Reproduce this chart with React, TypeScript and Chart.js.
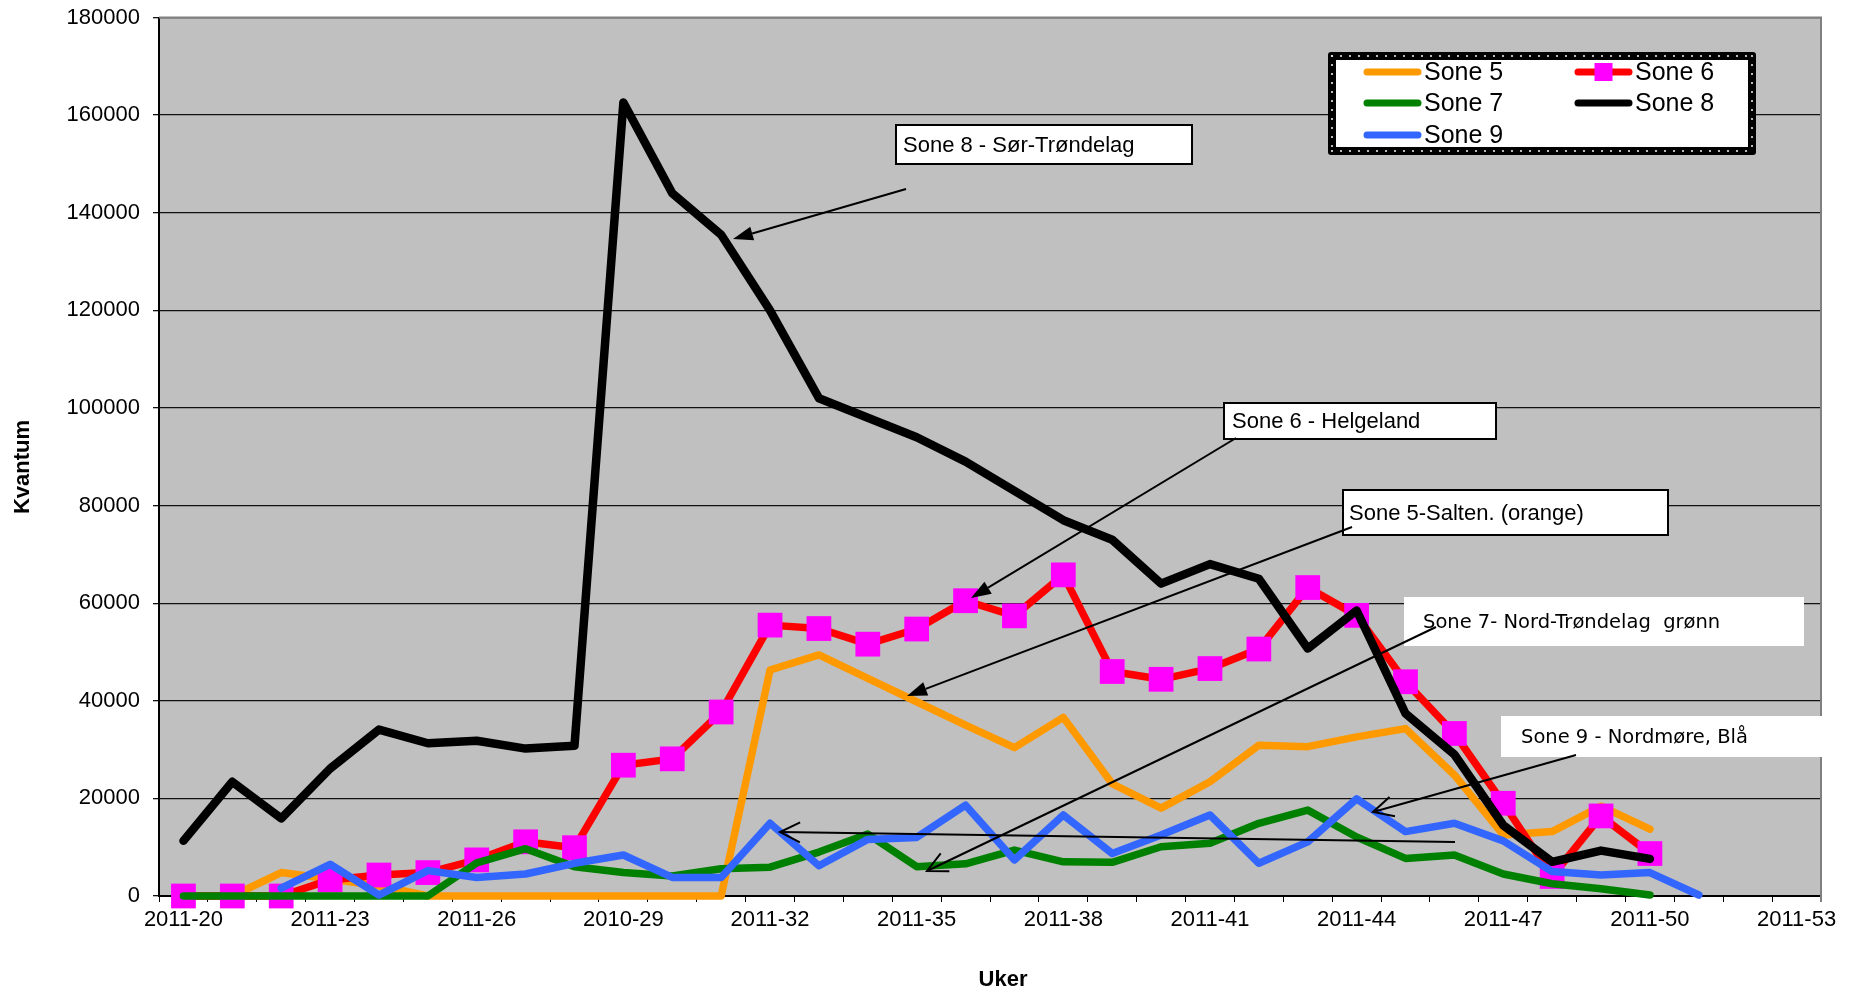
import React, { useEffect, useRef } from 'react';
import { Chart, registerables } from 'chart.js';

Chart.register(...registerables);

// ---------- data ----------
const weeks = [
  '2011-20', '2011-21', '2011-22', '2011-23', '2011-24', '2011-25', '2011-26', '2011-27', '2011-28', '2010-29',
  '2011-30', '2011-31', '2011-32', '2011-33', '2011-34', '2011-35', '2011-36', '2011-37', '2011-38', '2011-39',
  '2011-40', '2011-41', '2011-42', '2011-43', '2011-44', '2011-45', '2011-46', '2011-47', '2011-48', '2011-49',
  '2011-50', '2011-51', '2011-52', '2011-53',
];

const sone5 = [0, 0, 4800, 3500, 2100, 0, 0, 0, 0, 0, 0, 0, 46300, 49400, 44600, 39800, 35000, 30400, 36600, 23000,
  18000, 23400, 30900, 30600, 32600, 34300, 24800, 12500, 13200, 18400, 13700, null, null, null];

const sone6 = [0, 0, 0, 3300, 4300, 4800, 7400, 11100, 9900, 26800, 28100, 37700, 55500, 54800, 51600, 54700, 60500,
  57400, 65800, 46000, 44400, 46600, 50600, 63200, 57500, 43900, 33300, 19000, 4000, 16400, 8700, null, null, null];

const sone7 = [0, 0, 0, 0, 0, 0, 6800, 9700, 6000, 4800, 4100, 5600, 5900, 9000, 12700, 6000, 6600, 9400, 7000, 6900,
  10100, 10800, 14900, 17600, 12100, 7700, 8400, 4500, 2500, 1500, 200, null, null, null];

const sone8 = [11300, 23400, 15900, 26100, 34100, 31300, 31800, 30200, 30800, 162600, 144000, 135500, 120000, 102000,
  98000, 94000, 89000, 83000, 77000, 73000, 64000, 68000, 65000, 50700, 58500, 37400, 29000, 14500, 7000, 9300, 7600,
  null, null, null];

const sone9 = [null, null, 1600, 6500, 200, 5200, 3800, 4500, 6700, 8400, 3800, 3800, 14900, 6200, 11600, 12000, 18600,
  7400, 16600, 8700, 12500, 16600, 6700, 11100, 19900, 13200, 14900, 11300, 5000, 4300, 4800, 200, null, null];

const seriesNames = ['Sone 5', 'Sone 6', 'Sone 7', 'Sone 8', 'Sone 9'];
const seriesColors = ['#FF9900', '#FF0000', '#008000', '#000000', '#3366FF'];
const markerColor = '#FF00FF';

const yMin = 0;
const yMax = 180000;
const yStep = 20000;
const labelEvery = 3;

const yTitle = 'Kvantum';
const xTitle = 'Uker';

// annotation callouts: text boxes + arrows (pixel layout)
const callouts = [
  { text: 'Sone 8 - Sør-Trøndelag', box: [896, 125, 296, 39], bordered: true, font: '22px "Liberation Sans", Arial, sans-serif', tx: 903 },
  { text: 'Sone 6 - Helgeland', box: [1224, 403, 272, 36], bordered: true, font: '22px "Liberation Sans", Arial, sans-serif', tx: 1232 },
  { text: 'Sone 5-Salten. (orange)', box: [1343, 490, 325, 45], bordered: true, font: '22px "Liberation Sans", Arial, sans-serif', tx: 1349 },
  { text: 'Sone 7- Nord-Trøndelag  grønn', box: [1404, 597, 400, 49], bordered: false, font: '19.5px "DejaVu Sans", Verdana, sans-serif', tx: 1423 },
  { text: 'Sone 9 - Nordmøre, Blå', box: [1501, 716, 321, 41], bordered: false, font: '19.5px "DejaVu Sans", Verdana, sans-serif', tx: 1521 },
];

const arrows = [
  { from: [906, 189], to: [733, 239], filled: true },
  { from: [1236, 438], to: [971, 598], filled: true },
  { from: [1352, 527], to: [907, 696], filled: true },
  { from: [1436, 627], to: [927, 871], filled: false },
  { from: [1576, 755], to: [1373, 812], filled: false },
  { from: [1455, 842], to: [780, 832], filled: false },
];

const FONT = '"Liberation Sans", Arial, sans-serif';

function drawArrow(ctx: CanvasRenderingContext2D, a: any) {
  const [x1, y1] = a.from;
  const [x2, y2] = a.to;
  const ang = Math.atan2(y2 - y1, x2 - x1);
  ctx.save();
  ctx.strokeStyle = '#000';
  ctx.fillStyle = '#000';
  ctx.lineWidth = 2;
  ctx.lineCap = 'butt';
  if (a.filled) {
    const L = 20, W = 7;
    const bx = x2 - Math.cos(ang) * L;
    const by = y2 - Math.sin(ang) * L;
    ctx.beginPath();
    ctx.moveTo(x1, y1);
    ctx.lineTo(bx, by);
    ctx.stroke();
    ctx.beginPath();
    ctx.moveTo(x2, y2);
    ctx.lineTo(bx + Math.sin(ang) * W, by - Math.cos(ang) * W);
    ctx.lineTo(bx - Math.sin(ang) * W, by + Math.cos(ang) * W);
    ctx.closePath();
    ctx.fill();
  } else {
    const L = 20, W = 10;
    const bx = x2 - Math.cos(ang) * L;
    const by = y2 - Math.sin(ang) * L;
    ctx.beginPath();
    ctx.moveTo(x1, y1);
    ctx.lineTo(x2, y2);
    ctx.stroke();
    ctx.beginPath();
    ctx.moveTo(bx + Math.sin(ang) * W, by - Math.cos(ang) * W);
    ctx.lineTo(x2, y2);
    ctx.lineTo(bx - Math.sin(ang) * W, by + Math.cos(ang) * W);
    ctx.stroke();
  }
  ctx.restore();
}

const decorPlugin = {
  id: 'decor',
  beforeDraw(chart: any) {
    const { ctx, chartArea: a } = chart;
    ctx.save();
    ctx.fillStyle = '#fff';
    ctx.fillRect(0, 0, chart.width, chart.height);
    ctx.fillStyle = '#C0C0C0';
    ctx.fillRect(a.left, a.top, a.right - a.left, a.bottom - a.top);
    ctx.restore();
  },
  beforeDatasetsDraw(chart: any) {
    const { ctx, chartArea: a } = chart;
    ctx.save();
    ctx.strokeStyle = '#808080';
    ctx.lineWidth = 2;
    ctx.beginPath();
    ctx.moveTo(a.left, a.top);
    ctx.lineTo(a.right, a.top);
    ctx.lineTo(a.right, a.bottom + 6);
    ctx.stroke();
    ctx.restore();
  },
  afterDraw(chart: any) {
    const { ctx, chartArea: a } = chart;
    ctx.save();
    // callout boxes
    for (const c of callouts) {
      const [x, y, w, h] = c.box;
      ctx.fillStyle = '#fff';
      ctx.fillRect(x, y, w, h);
      if (c.bordered) {
        ctx.strokeStyle = '#000';
        ctx.lineWidth = 2;
        ctx.strokeRect(x, y, w, h);
      }
      ctx.fillStyle = '#000';
      ctx.font = c.font;
      ctx.textAlign = 'left';
      ctx.textBaseline = 'middle';
      ctx.fillText(c.text, c.tx, y + h / 2 + 1);
    }
    for (const ar of arrows) drawArrow(ctx, ar);

    // legend
    const lx = 1328, ly = 52, lw = 428, lh = 103, bw = 8;
    ctx.fillStyle = '#000';
    ctx.beginPath();
    ctx.roundRect(lx, ly, lw, lh, 3);
    ctx.fill();
    ctx.fillStyle = '#fff';
    ctx.fillRect(lx + bw, ly + bw, lw - 2 * bw, lh - 2 * bw);
    ctx.fillStyle = '#e8e8e8';
    for (let x = lx + 4; x <= lx + lw - 3; x += 9) {
      ctx.beginPath(); ctx.arc(x, ly + 4, 1.1, 0, Math.PI * 2); ctx.fill();
      ctx.beginPath(); ctx.arc(x, ly + lh - 4, 1.1, 0, Math.PI * 2); ctx.fill();
    }
    for (let y = ly + 4; y <= ly + lh - 3; y += 9) {
      ctx.beginPath(); ctx.arc(lx + 4, y, 1.1, 0, Math.PI * 2); ctx.fill();
      ctx.beginPath(); ctx.arc(lx + lw - 4, y, 1.1, 0, Math.PI * 2); ctx.fill();
    }
    const colX = [1364, 1575];
    const rowY = [72, 103, 135];
    chart.data.datasets.forEach((ds: any, i: number) => {
      const cx = colX[i % 2];
      const cy = rowY[Math.floor(i / 2)];
      ctx.strokeStyle = ds.borderColor;
      ctx.lineWidth = 7;
      ctx.lineCap = 'round';
      ctx.beginPath();
      ctx.moveTo(cx + 3, cy);
      ctx.lineTo(cx + 54, cy);
      ctx.stroke();
      if (ds.pointRadius > 0) {
        ctx.fillStyle = ds.pointBackgroundColor;
        ctx.fillRect(cx + 28.5 - 9, cy - 9, 18, 18);
      }
      ctx.fillStyle = '#000';
      ctx.font = '25px ' + FONT;
      ctx.textAlign = 'left';
      ctx.textBaseline = 'middle';
      ctx.fillText(ds.label, cx + 60, cy + 1);
    });

    // axis titles
    ctx.fillStyle = '#000';
    ctx.font = 'bold 22px ' + FONT;
    ctx.textAlign = 'center';
    ctx.textBaseline = 'middle';
    ctx.fillText(xTitle, (a.left + a.right) / 2 + 13, 980);
    ctx.translate(23, 467);
    ctx.rotate(-Math.PI / 2);
    ctx.fillText(yTitle, 0, 0);
    ctx.restore();
  },
};

export default function App() {
  const ref = useRef<HTMLCanvasElement>(null);
  useEffect(() => {
    if (!ref.current) return;
    const allData = [sone5, sone6, sone7, sone8, sone9];
    const datasets = allData.map((d, i) => ({
      label: seriesNames[i],
      data: d,
      borderColor: seriesColors[i],
      backgroundColor: seriesColors[i],
      borderWidth: i === 3 ? 8.5 : 7.5,
      borderJoinStyle: 'round' as const,
      borderCapStyle: 'round' as const,
      tension: 0,
      fill: false,
      clip: false as any,
      order: 5 - i,
      pointStyle: 'rect' as const,
      pointRadius: i === 1 ? 17.5 : 0,
      pointHoverRadius: i === 1 ? 17.5 : 0,
      pointBackgroundColor: markerColor,
      pointBorderColor: markerColor,
      pointBorderWidth: 0,
      spanGaps: false,
    }));
    const chart = new Chart(ref.current, {
      type: 'line',
      data: { labels: weeks, datasets },
      plugins: [decorPlugin],
      options: {
        animation: false,
        responsive: false,
        maintainAspectRatio: false,
        devicePixelRatio: 1,
        layout: { padding: { top: 17, right: 36, left: 0, bottom: 0 } },
        plugins: { legend: { display: false }, tooltip: { enabled: false }, title: { display: false } },
        scales: {
          x: {
            type: 'category',
            offset: true,
            grid: { display: true, drawOnChartArea: false, drawTicks: true, tickLength: 6, offset: true, color: '#000', lineWidth: 1 },
            border: { display: true, color: '#000', width: 2 },
            ticks: {
              autoSkip: false,
              maxRotation: 0,
              minRotation: 0,
              padding: 5,
              color: '#000',
              font: { family: FONT, size: 22 },
              callback: (_v: any, idx: number) => (idx % labelEvery === 0 ? weeks[idx] : ''),
            },
            afterFit: (scale: any) => { scale.height = 94; scale.paddingLeft = 0; scale.paddingRight = 0; },
          },
          y: {
            min: yMin,
            max: yMax,
            grid: { color: '#111', lineWidth: 1.3, drawTicks: true, tickLength: 6 },
            border: { display: true, color: '#000', width: 2 },
            ticks: {
              stepSize: yStep,
              padding: 13,
              color: '#000',
              font: { family: FONT, size: 22 },
              callback: (v: any) => String(v),
            },
            afterFit: (scale: any) => { scale.width = 159; scale.paddingTop = 0; scale.paddingBottom = 0; },
          },
        },
      },
    });
    return () => chart.destroy();
  }, []);
  return (
    <div style={{ position: 'fixed', left: 0, top: 0, width: 1857, height: 990, background: '#fff' }}>
      <canvas ref={ref} width={1857} height={990} style={{ display: 'block' }} />
    </div>
  );
}
